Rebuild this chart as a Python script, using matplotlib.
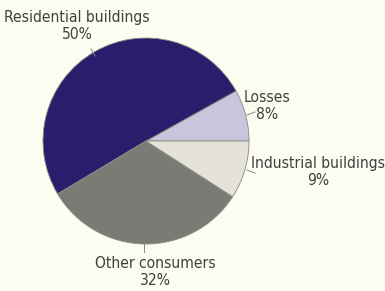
import matplotlib
matplotlib.use("Agg")
import matplotlib.pyplot as plt

categories = ["Losses", "Residential buildings", "Other consumers", "Industrial buildings"]
values = [8, 50, 32, 9]
colors = ["#c9c5dc", "#2b1c6c", "#7b7b75", "#e5e3d8"]

W, H = 385, 291
fig = plt.figure(figsize=(W / 100, H / 100), dpi=100, facecolor="#fcfcf0")
ax = fig.add_axes([0, 0, 1, 1])
ax.set_facecolor("#fcfcf0")

cx, cy, r = 146, H - 141, 103
ax.pie(values, colors=colors, startangle=0, counterclock=True,
       center=(cx, cy), radius=r, frame=True,
       wedgeprops=dict(edgecolor="#8a8a84", linewidth=0.6))
ax.set_xlim(0, W)
ax.set_ylim(0, H)
ax.set_aspect("equal")
ax.axis("off")

tc = "#404040"
fs = 11.2
labels = [f"{c}\n{v}%" for c, v in zip(categories, values)]
pos = {
    "Residential buildings": (77, H - 26),
    "Losses": (267, H - 106),
    "Industrial buildings": (318, H - 172),
    "Other consumers": (155, H - 272),
}
for lab, cat in zip(labels, categories):
    x, y = pos[cat]
    ax.text(x, y, lab, ha="center", va="center", fontsize=fs, color=tc,
            family="DejaVu Sans", fontstretch="condensed", linespacing=1.2)

lc = "#8a8a84"
ax.plot([91, 95], [H - 49, H - 56], color=lc, lw=0.7)
ax.plot([247, 255], [H - 115, H - 112], color=lc, lw=0.7)
ax.plot([247, 255], [H - 170, H - 173], color=lc, lw=0.7)
ax.plot([144, 144], [H - 243, H - 252], color=lc, lw=0.7)

fig.savefig("out.png", dpi=100, facecolor=fig.get_facecolor())
